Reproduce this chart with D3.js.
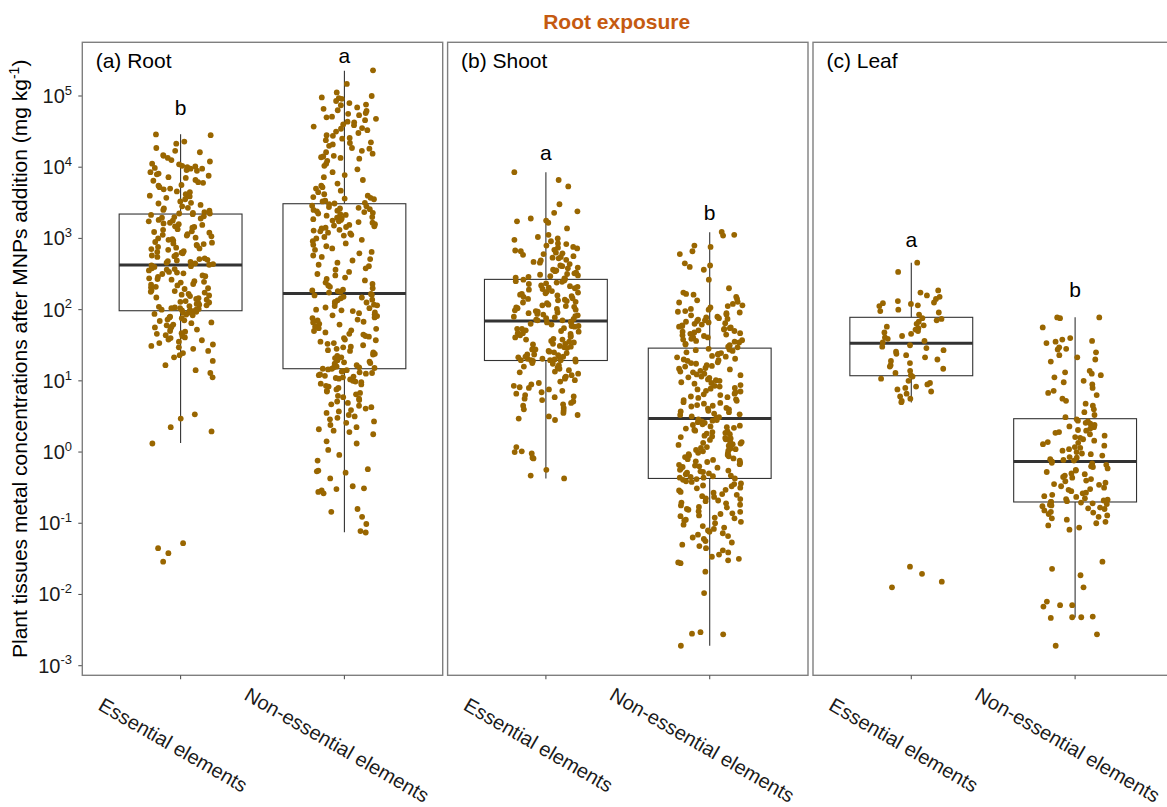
<!DOCTYPE html>
<html><head><meta charset="utf-8">
<script src="https://cdn.jsdelivr.net/npm/d3@7"></script>
<style>
body{margin:0;background:#fff}
svg{display:block;font-family:"Liberation Sans",Arial,Helvetica,sans-serif}
</style>
</head><body>
<svg id="chart" width="1167" height="807"></svg>
<script>
// ---------------- DATA ----------------
const chartTitle = "Root exposure";
const panelNames = ["(a) Root", "(b) Shoot", "(c) Leaf"];
const categories = ["Essential elements", "Non-essential elements"];
const yTickValues = [1e-3, 1e-2, 1e-1, 1e0, 1e1, 1e2, 1e3, 1e4, 1e5];
const yTickExponents = ["-3", "-2", "-1", "0", "1", "2", "3", "4", "5"];

// concentrations as log10(mg kg-1)
const rootEssentialLog10 = [
4.46,4.45,4.36,4.33,4.27,4.23,4.21,4.17,4.16,4.13,4.1,4.08,4.05,4.04,4.02,4.01,4.0,3.99,3.98,3.98,
3.96,3.95,3.93,3.91,3.9,3.88,3.86,3.85,3.82,3.81,3.79,3.78,3.75,3.74,3.72,3.7,3.69,3.66,3.65,3.62,
3.6,3.59,3.57,3.55,3.52,3.5,3.49,3.47,3.45,3.43,3.42,3.4,3.39,3.37,3.36,3.35,3.35,3.34,
3.33,3.31,3.3,3.29,3.28,3.26,3.25,3.24,3.22,3.21,3.2,3.19,3.17,3.16,3.15,3.13,3.12,3.1,3.09,3.08,
3.06,3.05,3.04,3.03,3.01,3.0,2.99,2.98,2.97,2.95,2.94,2.93,2.92,2.91,2.9,2.88,2.87,2.86,2.85,2.84,
2.82,2.81,2.8,2.79,2.77,2.76,2.75,2.74,2.72,2.71,2.7,2.69,2.68,2.67,2.66,2.65,2.64,2.63,
2.62,2.61,2.6,2.58,2.57,2.56,2.55,2.53,2.52,2.51,2.5,2.48,2.47,2.46,2.44,2.43,2.42,2.4,2.39,2.38,
2.36,2.35,2.34,2.32,2.31,2.3,2.29,2.27,2.26,2.25,2.24,2.22,2.21,2.2,2.19,2.17,2.16,2.15,2.14,2.12,
2.11,2.1,2.09,2.08,2.07,2.06,2.05,2.04,2.03,2.02,2.02,2.01,2.0,2.0,1.99,1.99,1.98,1.98,
1.97,1.96,1.96,1.94,1.93,1.92,1.9,1.89,1.88,1.86,1.85,1.84,1.82,1.81,1.79,1.78,1.76,1.75,1.73,1.72,
1.7,1.69,1.67,1.66,1.64,1.63,1.61,1.6,1.58,1.57,1.55,1.53,1.51,1.49,1.47,1.45,1.42,1.39,1.36,1.33,
1.28,1.22,1.15,1.11,1.05,0.53,0.47,0.35,0.29,0.12,-1.28,-1.35,-1.42,-1.54
];
const rootNonEssentialLog10 = [
5.36,5.17,5.05,5.0,4.98,4.97,4.96,4.93,4.9,4.88,4.87,4.84,4.82,4.8,4.79,4.76,4.75,4.73,4.71,4.7,
4.68,4.66,4.64,4.63,4.6,4.59,4.57,4.55,4.54,4.52,4.5,4.48,4.45,4.44,4.41,4.4,4.38,4.35,4.34,4.32,
4.3,4.27,4.26,4.23,4.21,4.19,4.16,4.15,4.14,4.13,4.12,4.09,4.05,4.02,3.97,3.93,3.89,3.86,3.82,3.77,
3.74,3.72,3.7,3.67,3.65,3.62,3.6,3.58,3.57,3.56,3.55,3.53,3.52,3.5,3.49,
3.48,3.46,3.45,3.44,3.43,3.42,3.41,3.4,3.39,3.38,3.37,3.36,3.35,3.34,3.33,3.32,3.3,3.29,3.28,3.27,
3.26,3.25,3.24,3.23,3.22,3.2,3.19,3.18,3.17,3.16,3.15,3.14,3.12,3.11,3.1,3.08,3.07,3.05,3.04,3.02,
3.0,2.98,2.96,2.93,2.91,2.89,2.86,2.84,2.81,2.79,2.76,2.74,2.71,2.69,2.66,2.63,2.61,2.58,2.56,2.53,
2.5,2.48,2.45,2.43,2.41,2.38,2.36,2.34,2.32,2.3,2.28,2.27,2.26,2.25,2.24,
2.22,2.21,2.2,2.18,2.17,2.16,2.14,2.13,2.11,2.1,2.09,2.07,2.06,2.05,2.03,2.02,2.0,1.99,1.98,1.96,
1.95,1.93,1.92,1.91,1.89,1.88,1.86,1.85,1.83,1.82,1.8,1.79,1.77,1.76,1.74,1.73,1.71,1.7,1.68,1.66,
1.65,1.63,1.62,1.6,1.58,1.57,1.55,1.53,1.52,1.5,1.48,1.47,1.45,1.43,1.42,1.4,1.38,1.37,1.35,1.33,
1.32,1.3,1.29,1.27,1.26,1.25,1.24,1.22,1.21,1.2,1.19,1.19,1.18,1.17,1.17,
1.16,1.15,1.14,1.13,1.12,1.11,1.1,1.09,1.08,1.07,1.06,1.05,1.04,1.03,1.02,1.0,0.99,0.98,0.96,0.95,
0.93,0.92,0.9,0.88,0.86,0.85,0.83,0.81,0.79,0.77,0.75,0.73,0.71,0.69,0.67,0.65,0.63,0.61,0.59,0.57,
0.55,0.52,0.5,0.48,0.46,0.43,0.41,0.38,0.35,0.32,0.3,0.28,0.25,0.15,0.12,0.03,-0.04,-0.12,-0.24,-0.26,
-0.27,-0.29,-0.37,-0.48,-0.51,-0.52,-0.54,-0.56,-0.58,-0.8,-0.84,-0.91,-1.01,-1.11,-1.13
];
const shootEssentialLog10 = [
3.93,3.82,3.73,3.48,3.38,3.36,3.28,3.25,3.24,3.22,3.14,3.05,3.02,3.0,2.98,2.96,2.93,2.92,2.9,2.88,
2.87,2.86,2.84,2.83,2.82,2.8,2.79,2.78,2.77,2.75,2.74,2.73,2.72,2.7,2.69,2.67,2.66,2.64,2.62,2.61,
2.59,2.58,2.56,2.55,2.54,2.52,2.51,2.5,2.49,2.48,2.47,2.46,2.45,2.44,2.43,
2.42,2.41,2.4,2.39,2.38,2.37,2.36,2.34,2.33,2.32,2.31,2.3,2.29,2.28,2.26,2.25,2.24,2.23,2.22,2.21,
2.2,2.19,2.18,2.16,2.15,2.14,2.13,2.12,2.11,2.1,2.09,2.07,2.06,2.05,2.04,2.03,2.02,2.01,2.0,1.99,
1.98,1.97,1.96,1.95,1.94,1.93,1.92,1.91,1.9,1.89,1.88,1.87,1.86,1.85,1.85,
1.83,1.82,1.82,1.8,1.79,1.77,1.77,1.76,1.74,1.73,1.73,1.71,1.7,1.69,1.67,1.67,1.66,1.64,1.63,1.62,
1.61,1.59,1.58,1.58,1.56,1.55,1.54,1.52,1.52,1.51,1.49,1.48,1.47,1.46,1.44,1.44,1.42,1.41,1.4,1.39,
1.37,1.37,1.36,1.34,1.34,1.33,1.32,1.31,1.31,1.3,1.3,1.29,1.29,1.29,1.29,
1.28,1.27,1.25,1.24,1.22,1.2,1.19,1.17,1.15,1.13,1.12,1.1,1.08,1.06,1.05,1.03,1.01,0.99,0.97,0.95,
0.93,0.91,0.9,0.88,0.86,0.84,0.82,0.8,0.78,0.77,0.75,0.73,0.71,0.69,0.67,0.65,0.62,0.6,0.58,0.55,
0.52,0.5,0.47,0.45,0.07,0.01,-0.02,-0.08,0.0,-0.09,-0.25,-0.33,-0.37
];
const shootNonEssentialLog10 = [
3.09,3.05,3.04,2.9,2.88,2.82,2.78,2.65,2.62,2.6,2.56,2.42,2.3,2.24,2.22,2.21,2.18,2.15,2.13,2.11,
2.1,2.08,2.06,2.05,2.03,2.01,2.0,1.98,1.97,1.96,1.95,1.93,1.92,1.9,1.89,1.88,1.87,1.86,1.85,1.84,
1.83,1.82,1.81,1.8,1.79,1.78,1.77,1.76,1.75,1.74,1.73,1.72,1.71,1.7,1.69,1.68,1.67,1.66,1.65,1.64,
1.63,1.62,1.61,1.6,1.59,1.58,1.57,1.56,1.55,1.54,1.52,1.51,1.5,1.48,1.47,
1.45,1.44,1.43,1.42,1.4,1.39,1.38,1.37,1.35,1.34,1.33,1.31,1.3,1.29,1.28,1.26,1.25,1.24,1.22,1.21,
1.2,1.18,1.17,1.16,1.14,1.13,1.12,1.1,1.09,1.08,1.06,1.05,1.04,1.02,1.01,1.0,0.98,0.97,0.96,0.94,
0.93,0.92,0.9,0.89,0.88,0.86,0.85,0.84,0.82,0.81,0.8,0.78,0.77,0.76,0.74,0.73,0.72,0.7,0.69,0.68,
0.66,0.65,0.64,0.62,0.61,0.6,0.58,0.57,0.56,0.54,0.53,0.52,0.5,0.49,0.48,
0.46,0.45,0.44,0.43,0.42,0.41,0.39,0.38,0.37,0.36,0.35,0.34,0.33,0.31,0.3,0.29,0.28,0.27,0.26,0.25,
0.23,0.22,0.21,0.2,0.19,0.18,0.17,0.15,0.14,0.13,0.12,0.11,0.1,0.09,0.07,0.06,0.05,0.04,0.03,0.02,
0.01,-0.01,-0.02,-0.03,-0.04,-0.05,-0.06,-0.07,-0.09,-0.1,-0.11,-0.12,-0.13,-0.14,-0.15,-0.17,-0.18,-0.19,-0.2,-0.21,
-0.22,-0.23,-0.25,-0.26,-0.27,-0.28,-0.29,-0.3,-0.31,-0.33,-0.34,-0.35,-0.36,-0.36,-0.37,
-0.38,-0.39,-0.41,-0.42,-0.44,-0.45,-0.47,-0.48,-0.5,-0.51,-0.53,-0.54,-0.56,-0.57,-0.59,-0.6,-0.62,-0.63,-0.65,-0.66,
-0.68,-0.69,-0.71,-0.72,-0.74,-0.75,-0.77,-0.78,-0.8,-0.81,-0.83,-0.84,-0.86,-0.87,-0.89,-0.9,-0.92,-0.93,-0.95,-0.96,
-0.98,-1.0,-1.02,-1.04,-1.06,-1.08,-1.1,-1.12,-1.14,-1.16,-1.18,-1.2,-1.22,-1.25,-1.27,-1.3,-1.32,-1.35,-1.38,-1.41,
-1.44,-1.47,-1.5,-1.52,-1.55,-1.56,-1.68,-1.98,-2.53,-2.55,-2.56,-2.72
];
const leafEssentialLog10 = [
2.66,2.53,2.27,2.24,2.2,2.18,2.15,2.12,2.1,2.09,2.08,2.06,2.05,2.0,1.98,1.96,1.93,
1.88,1.87,1.85,1.83,1.8,1.78,1.76,1.74,1.72,1.7,1.68,1.66,1.63,1.61,1.59,1.56,1.54,
1.5,1.48,1.46,1.43,1.41,1.38,1.36,1.33,1.3,1.28,1.25,1.22,1.2,1.17,1.14,1.11,1.08,
1.06,1.03,1.0,0.97,0.95,0.92,0.9,0.88,0.85,0.82,0.78,0.75,0.72,0.7,
-1.61,-1.71,-1.82,-1.9
];
const leafNonEssentialLog10 = [
1.89,1.89,1.88,1.75,1.6,1.58,1.56,1.55,1.53,1.47,1.45,1.44,1.4,1.36,1.33,1.3,1.27,1.14,1.12,1.1,
1.08,1.05,1.0,0.98,0.95,0.9,0.86,0.83,0.8,0.75,0.72,0.68,0.65,0.6,0.56,0.52,0.49,
0.46,0.44,0.43,0.41,0.4,0.38,0.36,0.35,0.33,0.31,0.3,0.28,0.27,0.25,0.23,0.21,0.2,0.18,0.16,0.14,
0.13,0.11,0.09,0.07,0.06,0.04,0.02,0.0,-0.02,-0.03,-0.05,-0.07,-0.08,-0.1,-0.11,-0.12,-0.13,
-0.15,-0.16,-0.18,-0.2,-0.21,-0.23,-0.25,-0.26,-0.28,-0.3,-0.31,-0.33,-0.35,-0.36,-0.38,-0.4,-0.41,-0.43,-0.45,-0.46,
-0.48,-0.5,-0.52,-0.53,-0.55,-0.57,-0.58,-0.6,-0.62,-0.63,-0.65,-0.66,-0.67,-0.68,-0.69,-0.7,-0.7,
-0.71,-0.72,-0.73,-0.74,-0.75,-0.76,-0.78,-0.79,-0.8,-0.82,-0.84,-0.85,-0.87,-0.89,-0.91,-0.93,-0.95,-0.98,-1.0,-1.03,
-1.06,-1.09,-1.54,-1.64,-1.73,-1.9,-2.1,-2.15,-2.15,-2.17,-2.31,-2.32,-2.32,-2.33,-2.56,-2.72
];

// box statistics (mg kg-1): [lower whisker, Q1, median, Q3, upper whisker]
const rootBoxStats  = [[1.34, 96.5, 423, 2200, 29000], [0.075, 14.8, 169, 3070, 226000]];
const shootBoxStats = [[0.426, 19.3, 69, 266, 8480], [0.0019, 0.426, 2.96, 28.8, 1220]];
const leafBoxStats  = [[4.95, 11.8, 33.6, 78, 456], [0.00475, 0.199, 0.738, 2.94, 78]];

// significance letters and the concentration at which each is written
const letterLabels = [["b", "a"], ["a", "b"], ["a", "b"]];
const letterLevels = [[54000, 288000], [12600, 1810], [764, 152]];

// ---------------- DRAWING ----------------
const pointsByPanel = [
  [rootEssentialLog10, rootNonEssentialLog10],
  [shootEssentialLog10, shootNonEssentialLog10],
  [leafEssentialLog10, leafNonEssentialLog10]
];
const boxByPanel = [rootBoxStats, shootBoxStats, leafBoxStats];

const svg = d3.select("#chart");
const plotTop = 42.3, plotBottom = 675.3;
const panelLeft = [82.3, 447.6, 813.0];
const panelW = 360.4;

const y = d3.scaleLog().domain([Math.pow(10, -3.135), Math.pow(10, 5.754)]).range([plotBottom, plotTop]);

// deterministic jitter generator
function mulberry32(a) {
  return function() {
    a |= 0; a = a + 0x6D2B79F5 | 0;
    let t = Math.imul(a ^ a >>> 15, 1 | a);
    t = t + Math.imul(t ^ t >>> 7, 61 | t) ^ t;
    return ((t ^ t >>> 14) >>> 0) / 4294967296;
  };
}
const rand = mulberry32(20240607);

const ptColor = "#996600";
const boxColor = "#333333";

// title
svg.append("text").attr("x", 616.7).attr("y", 29).attr("text-anchor", "middle")
  .attr("font-size", 21).attr("font-weight", "bold").attr("fill", "#C55A11").text(chartTitle);

// y axis label
const yl = svg.append("text").attr("transform", "translate(27,358.8) rotate(-90)")
  .attr("text-anchor", "middle").attr("font-size", 21).attr("fill", "#000");
yl.append("tspan").text("Plant tissues metal concentrations after MNPs addition (mg kg");
yl.append("tspan").attr("dy", -8).attr("font-size", 14).text("-1");
yl.append("tspan").attr("dy", 8).text(")");

// y axis ticks & labels (left of first panel)
const yAxisG = svg.append("g");
yTickValues.forEach((v, i) => {
  const yy = y(v);
  yAxisG.append("line").attr("x1", 78.3).attr("x2", panelLeft[0]).attr("y1", yy).attr("y2", yy)
    .attr("stroke", "#555").attr("stroke-width", 1.1);
  const t = yAxisG.append("text").attr("x", 72).attr("y", yy + 7).attr("text-anchor", "end")
    .attr("font-size", 20).attr("fill", "#1a1a1a");
  t.append("tspan").text("10");
  t.append("tspan").attr("dy", -8.3).attr("font-size", 13).text(yTickExponents[i]);
});

panelNames.forEach((pname, p) => {
  const L = panelLeft[p];
  const x = d3.scalePoint().domain(categories).range([L, L + panelW]).padding(0.6);
  const step = x.step();
  const bw = step * 0.75;
  const g = svg.append("g");

  const clipId = "clip" + p;
  svg.append("clipPath").attr("id", clipId).append("rect")
    .attr("x", L).attr("y", plotTop).attr("width", panelW).attr("height", plotBottom - plotTop);
  const inner = g.append("g").attr("clip-path", `url(#${clipId})`);

  categories.forEach((cat, c) => {
    const [lo, q1, med, q3, hi] = boxByPanel[p][c];
    const cx = x(cat);
    inner.append("line").attr("x1", cx).attr("x2", cx).attr("y1", y(q3)).attr("y2", y(hi))
      .attr("stroke", boxColor).attr("stroke-width", 1.1);
    inner.append("line").attr("x1", cx).attr("x2", cx).attr("y1", y(q1)).attr("y2", y(lo))
      .attr("stroke", boxColor).attr("stroke-width", 1.1);
    inner.append("rect").attr("x", cx - bw / 2).attr("y", y(q3)).attr("width", bw)
      .attr("height", y(q1) - y(q3)).attr("fill", "#fff").attr("stroke", boxColor).attr("stroke-width", 1.1);
    inner.append("line").attr("x1", cx - bw / 2).attr("x2", cx + bw / 2).attr("y1", y(med)).attr("y2", y(med))
      .attr("stroke", boxColor).attr("stroke-width", 3);
  });

  categories.forEach((cat, c) => {
    const cx = x(cat);
    const vals = pointsByPanel[p][c].map(v => Math.pow(10, v));
    inner.selectAll(null).data(vals).enter().append("circle")
      .attr("cx", () => cx + (rand() * 2 - 1) * 0.2 * step)
      .attr("cy", d => y(d))
      .attr("r", 2.9)
      .attr("fill", ptColor);
  });

  categories.forEach((cat, c) => {
    g.append("text").attr("x", x(cat)).attr("y", y(letterLevels[p][c])).attr("text-anchor", "middle")
      .attr("font-size", 21).attr("fill", "#000").text(letterLabels[p][c]);
  });

  g.append("rect").attr("x", L).attr("y", plotTop).attr("width", panelW).attr("height", plotBottom - plotTop)
    .attr("fill", "none").attr("stroke", "#7f7f7f").attr("stroke-width", 1.4);

  g.append("text").attr("x", L + 13.4).attr("y", 68.3).attr("font-size", 21).attr("fill", "#000").text(pname);

  categories.forEach(cat => {
    const cx = x(cat);
    g.append("line").attr("x1", cx).attr("x2", cx).attr("y1", plotBottom).attr("y2", plotBottom + 4)
      .attr("stroke", "#555").attr("stroke-width", 1.1);
    g.append("text").attr("transform", `translate(${cx - 11},751) rotate(30)`)
      .attr("text-anchor", "middle").attr("font-size", 20).attr("fill", "#1a1a1a").text(cat);
  });
});
</script>
</body></html>
